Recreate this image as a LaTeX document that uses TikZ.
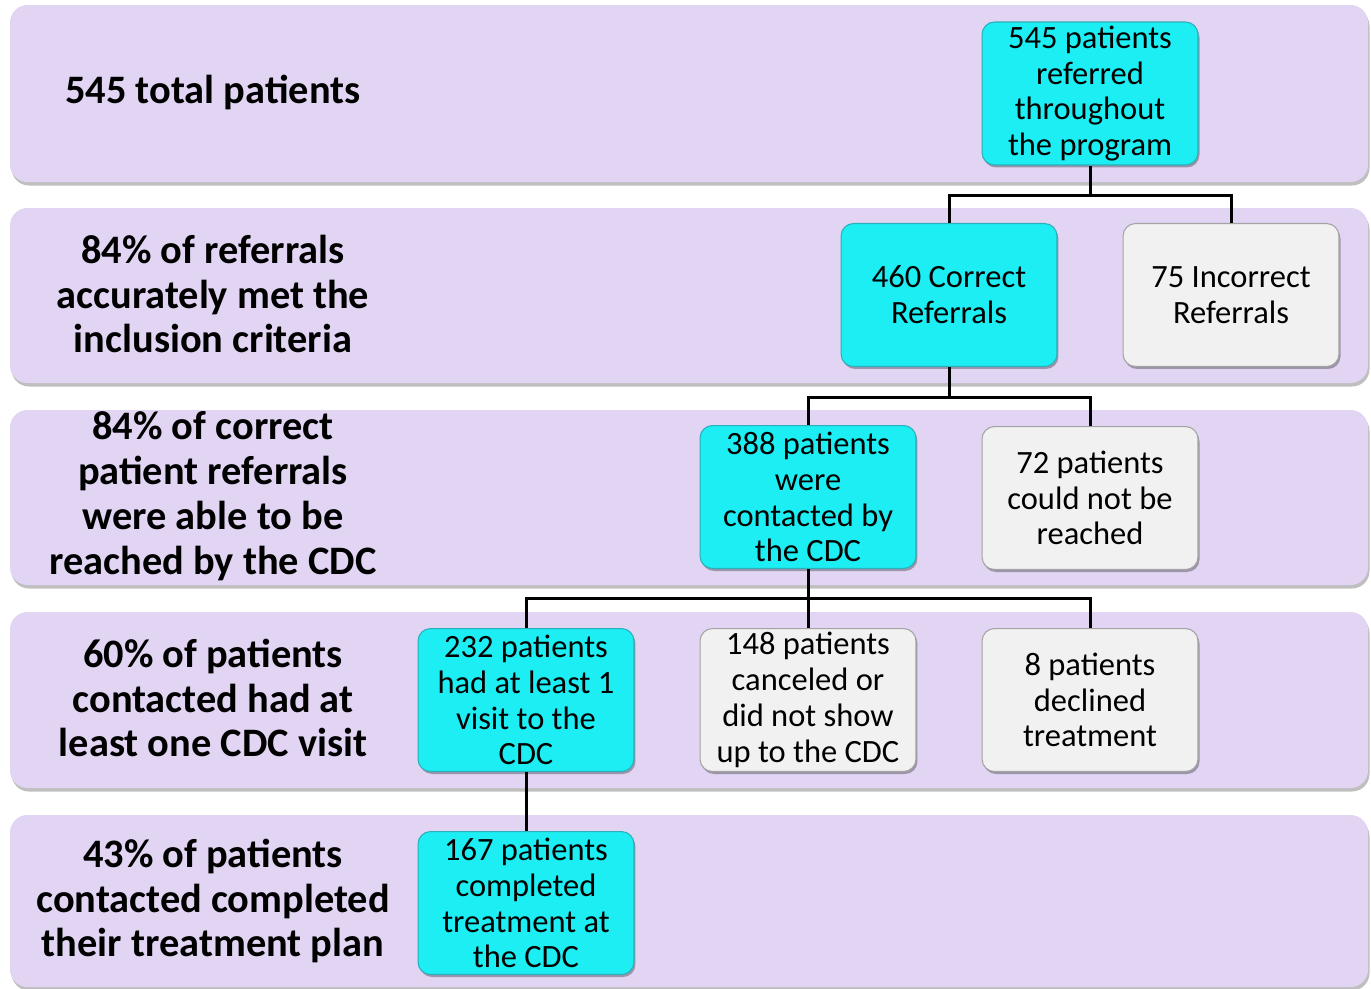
\documentclass[tikz,border=0pt]{standalone}
\usepackage{fontspec}
\setmainfont{Carlito}
\usetikzlibrary{shadows,calc}
\definecolor{band}{HTML}{E1D5F3}
\definecolor{cyanbox}{HTML}{1CEEF3}
\definecolor{cyanedge}{HTML}{2BAFBA}
\definecolor{greybox}{HTML}{F1F1F1}
\definecolor{greyedge}{HTML}{A3A3A3}
\tikzset{
  bandrow/.style={fill=band, rounded corners=0.35cm, drop shadow={shadow xshift=0.03cm, shadow yshift=-0.07cm, fill=black, opacity=0.25}},
  rowlabel/.style={align=center, font=\fontsize{23}{25.5}\selectfont\bfseries, text=black},
  flowbox/.style={rounded corners=0.25cm, minimum width=4.32cm, minimum height=2.86cm, align=center, inner sep=1pt,
     font=\fontsize{18.5}{20.4}\selectfont, text=black, line width=0.6pt,
     drop shadow={shadow xshift=0.03cm, shadow yshift=-0.05cm, fill=black, opacity=0.3}},
  hit/.style={flowbox, fill=cyanbox, draw=cyanedge},
  miss/.style={flowbox, fill=greybox, draw=greyedge},
  link/.style={line width=1.7pt, black}
}
\begin{document}
\begin{tikzpicture}[x=0.02cm, y=-0.02cm]
\useasboundingbox (0,0) rectangle (1371,988);
\clip (0,0) rectangle (1371,988);
\fill[white] (0,0) rectangle (1371,988);
% bands
\path[bandrow] (10,5) rectangle (1368,182);
\path[bandrow] (10,208) rectangle (1368,383);
\path[bandrow] (10,410) rectangle (1368,585);
\path[bandrow] (10,612) rectangle (1368,788);
\path[bandrow] (10,815) rectangle (1368,987);
% row labels
\node[rowlabel] (l1) at (213,92) {545 total patients};
\node[rowlabel] (l2) at (213,294) {84\% of referrals\\accurately met the\\inclusion criteria};
\node[rowlabel] (l3) at (213,496) {84\% of correct\\patient referrals\\were able to be\\reached by the CDC};
\node[rowlabel] (l4) at (213,698) {60\% of patients\\contacted had at\\least one CDC visit};
\node[rowlabel] (l5) at (213,901) {43\% of patients\\contacted completed\\their treatment plan};
% connectors first (under boxes)
\coordinate (j1) at (1090,195);
\coordinate (j2) at (949,397);
\coordinate (j3) at (808,598);
% boxes
\node[hit]  (b1) at (1090,93.5) {545 patients\\referred\\throughout\\the program};
\node[hit]  (b2) at (949,295) {460 Correct\\Referrals};
\node[miss] (b3) at (1231,295) {75 Incorrect\\Referrals};
\node[hit]  (b4) at (808,497) {388 patients\\were\\contacted by\\the CDC};
\node[miss] (b5) at (1090,498) {72 patients\\could not be\\reached};
\node[hit]  (b6) at (526,700) {232 patients\\had at least 1\\visit to the\\CDC};
\node[miss] (b7) at (808,700) {148 patients\\canceled or\\did not show\\up to the CDC};
\node[miss] (b8) at (1090,700) {8 patients\\declined\\treatment};
\node[hit]  (b9) at (526,903) {167 patients\\completed\\treatment at\\the CDC};
% connectors
\draw[link] (b1.south) -- (j1);
\draw[link] (j1) -| (b2.north);
\draw[link] (j1) -| (b3.north);
\draw[link] (b2.south) -- (j2);
\draw[link] (j2) -| (b4.north);
\draw[link] (j2) -| (b5.north);
\draw[link] (b4.south) -- (j3);
\draw[link] (j3) -| (b6.north);
\draw[link] (j3) -- (b7.north);
\draw[link] (j3) -| (b8.north);
\draw[link] (b6.south) -- (b9.north);
\end{tikzpicture}
\end{document}
